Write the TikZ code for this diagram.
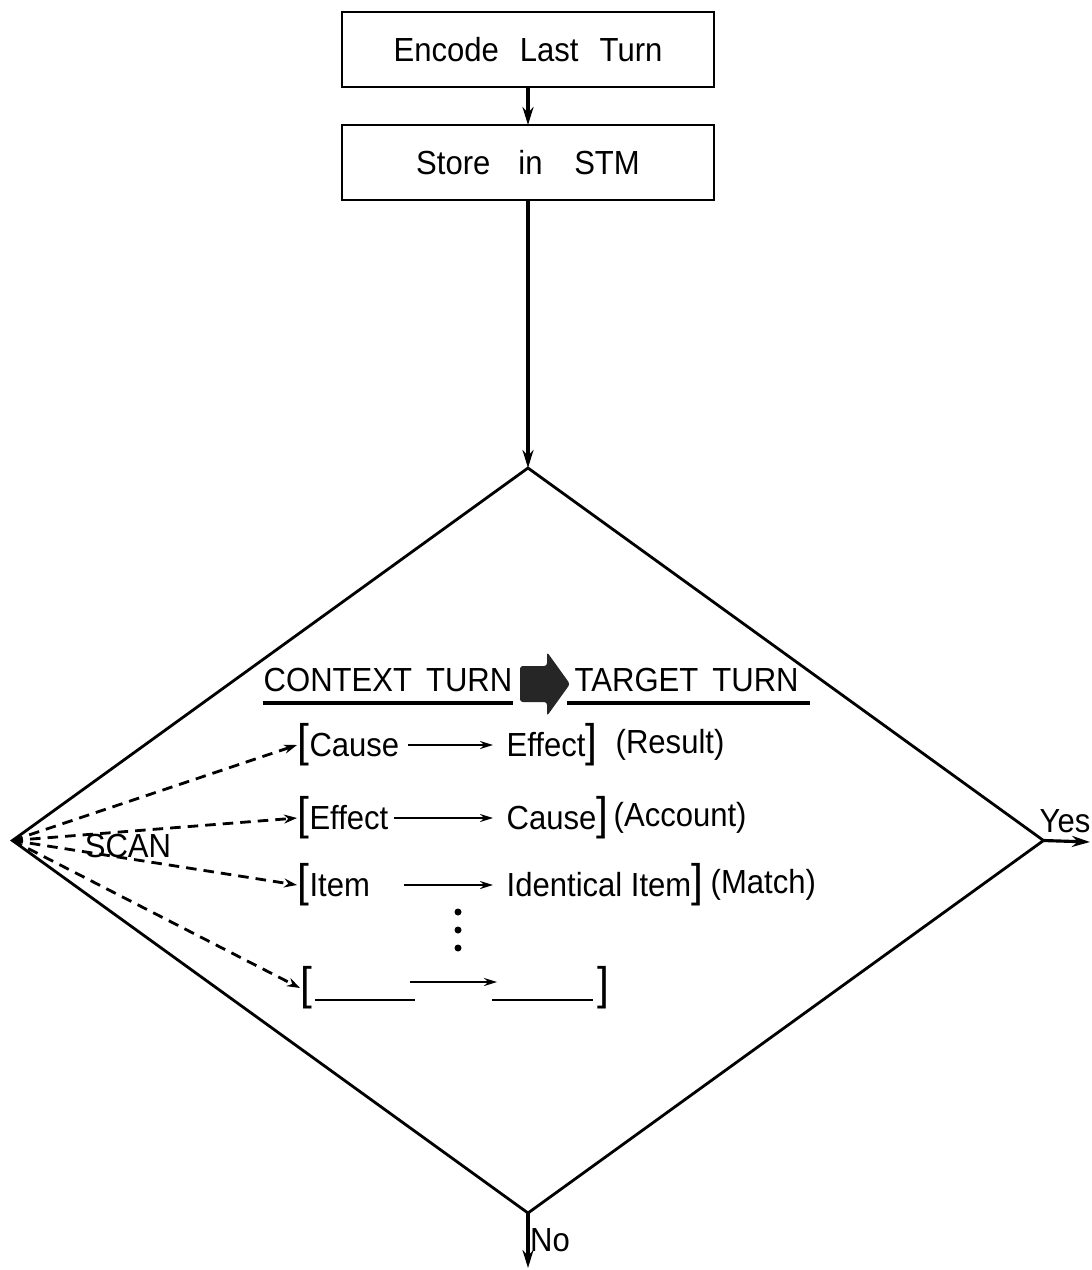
\documentclass[tikz,border=0pt]{standalone}
\usepackage{fontspec}
\setmainfont{Liberation Sans}[FakeStretch=0.93]
\usetikzlibrary{arrows.meta,shapes.geometric}

\newcommand{\opensq}{{\fontsize{13}{13}\selectfont[}}
\newcommand{\closesq}{{\fontsize{13}{13}\selectfont]}}

\begin{document}
\begin{tikzpicture}

    \tikzstyle{stepbox} = [draw, line width=0.8pt, minimum width=3.72cm, minimum height=0.75cm, inner sep=0, outer sep=0, font=\fontsize{9.5}{11}\selectfont]
    \tikzstyle{test} = [draw, diamond, line width=0.8pt, minimum width=10.31cm, minimum height=7.45cm, inner sep=0, outer sep=0]
    \tikzstyle{flow} = [line width=0.9pt, -{Stealth[length=1.8mm, width=1.1mm]}]
    \tikzstyle{pair} = [line width=0.6pt, -{Stealth[length=1.3mm, width=0.8mm]}]
    \tikzstyle{probe} = [line width=0.8pt, dash pattern=on 3pt off 2pt, -{Stealth[length=1.3mm, width=0.9mm]}]
    \tikzstyle{rowtext} = [anchor=west, inner sep=0, font=\fontsize{9.5}{11}\selectfont]
    \tikzstyle{tag} = [inner sep=0, font=\fontsize{9.5}{11}\selectfont]
    \tikzstyle{rule} = [line width=1.3pt]

    \useasboundingbox (0,0) rectangle (10.92,-12.70);

    % boxes and decision
    \node[stepbox] (encode) at (5.28,-0.495) {Encode\hspace{6pt}Last\hspace{6pt}Turn};
    \node[stepbox] (store) at (5.28,-1.625) {Store\hspace{8pt}in\hspace{9pt}STM};
    \node[test] (scan) at (5.28,-8.405) {};

    \coordinate (yesend) at (10.90,-8.42);
    \coordinate (noend) at (5.28,-12.68);

    \draw[flow] (encode) -- (store);
    \draw[flow] (store) -- (scan.north);
    \draw[flow] (scan.east) -- (yesend);
    \draw[flow] (scan.south) -- (noend);

    \node[tag] (yes) at (10.65,-8.21) {Yes};
    \node[tag] (no) at (5.50,-12.40) {No};

    % header
    \node[rowtext] (ctx) at (2.63,-6.80) {CONTEXT\hspace{4pt}TURN};
    \node[rowtext] (tgt) at (5.74,-6.80) {TARGET\hspace{4pt}TURN};
    \draw[rule] ([yshift=-3pt]ctx.south west) -- ([yshift=-3pt]ctx.south east);
    \draw[rule] ([yshift=-3pt, xshift=-2pt]tgt.south west) -- ([yshift=-3pt, xshift=3pt]tgt.south east);
    \fill[black!85, rounded corners=0.8pt] (5.20,-6.66) -- (5.47,-6.66) -- (5.47,-6.52) -- (5.70,-6.84)
        -- (5.47,-7.16) -- (5.47,-7.02) -- (5.20,-7.02) -- cycle;

    % pairs
    \node[rowtext] (cause1) at (2.97,-7.45) {\opensq Cause};
    \node[rowtext] (effect1) at (5.06,-7.45) {Effect\closesq};
    \node[rowtext] (result) at (6.15,-7.45) {(Result)};

    \node[rowtext] (effect2) at (2.97,-8.18) {\opensq Effect};
    \node[rowtext] (cause2) at (5.06,-8.18) {Cause\closesq};
    \node[rowtext] (account) at (6.13,-8.18) {(Account)};

    \node[rowtext] (item3) at (2.97,-8.85) {\opensq Item};
    \node[rowtext] (ident3) at (5.06,-8.85) {Identical Item\closesq};
    \node[rowtext] (match) at (7.10,-8.85) {(Match)};

    \node[rowtext] (open5) at (3.00,-9.88) {\opensq};
    \node[rowtext] (close5) at (5.97,-9.88) {\closesq};
    \coordinate (g5a) at (4.10,-9.82);
    \coordinate (g5b) at (4.97,-9.82);

    \draw[pair, shorten <=0.08cm, shorten >=0.13cm] (cause1) -- (effect1);
    \draw[pair, shorten <=0.05cm, shorten >=0.13cm] (effect2) -- (cause2);
    \draw[pair, shorten <=0.33cm, shorten >=0.13cm] (item3) -- (ident3);
    \draw[pair] (g5a) -- (g5b);
    \draw[line width=0.6pt] (3.15,-10.0) -- (4.15,-10.0);
    \draw[line width=0.6pt] (4.92,-10.0) -- (5.93,-10.0);

    \foreach \y in {9.12, 9.30, 9.48}
        \fill (4.58,-\y) circle (0.035);

    % scanning
    \node[tag] (scantxt) at (1.28,-8.46) {SCAN};
    \foreach \row in {cause1, effect2, item3, open5}
        \draw[probe] (scan.west) -- (\row.west);

\end{tikzpicture}
\end{document}
